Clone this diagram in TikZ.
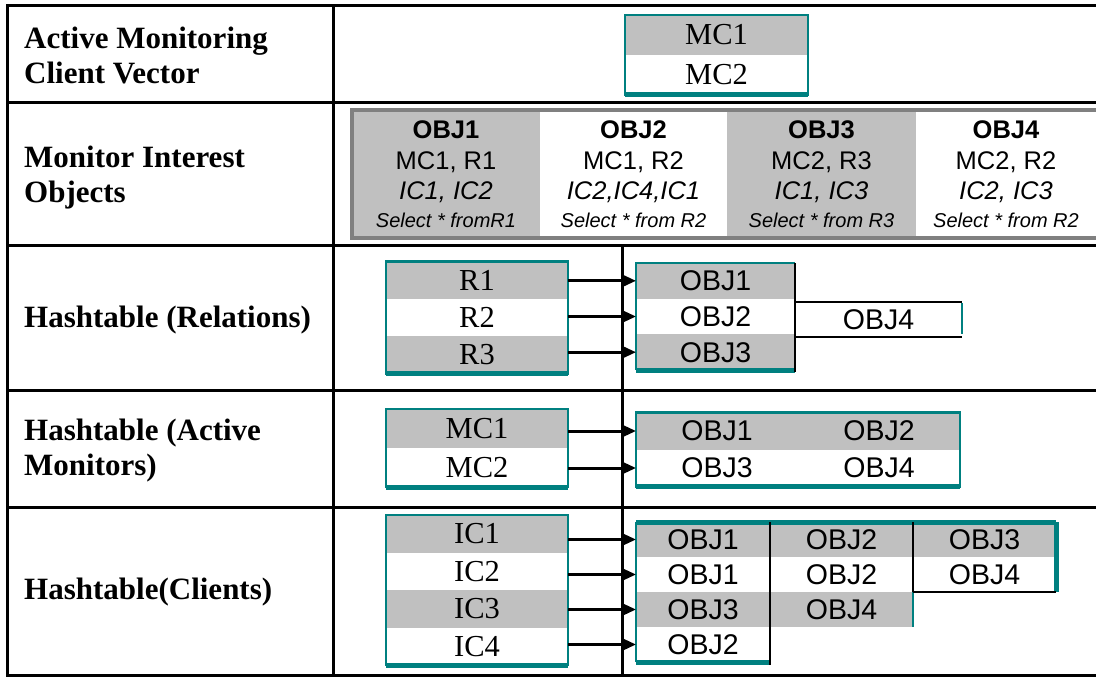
\documentclass[tikz,border=0pt]{standalone}
\usepackage{fontspec}
\setmainfont{Liberation Serif}
\setsansfont{Liberation Sans}
\usetikzlibrary{arrows.meta}
\definecolor{cellgray}{HTML}{C0C0C0}
\definecolor{tealc}{HTML}{008080}
\definecolor{framegray}{HTML}{808080}

\tikzset{
  rowlabel/.style={anchor=west, align=left, inner sep=0pt,
    font=\fontsize{31}{35}\selectfont\bfseries},
  cell/.style n args={2}{inner sep=0pt, outer sep=0pt,
    minimum width=#1, minimum height=#2},
  shaded/.style={fill=cellgray},
  plain/.style={fill=white},
  serifcell/.style={font=\fontsize{30.5}{32}\selectfont},
  sanscell/.style={font=\sffamily\fontsize{28.5}{30}\selectfont},
  objcell/.style={align=center, font=\sffamily\fontsize{25.5}{30.5}\selectfont},
  tbl/.style={line width=3pt, black},
  tealline/.style={line width=2.5pt, tealc},
  tealbase/.style={line width=5pt, tealc},
  thinblack/.style={line width=1.5pt, black},
  link/.style={line width=3pt, -{Triangle[length=15pt,width=13pt]}},
}
\newcommand{\selline}[1]{{\fontsize{20}{22}\selectfont\itshape #1}}

\begin{document}
\begin{tikzpicture}[x=1pt,y=-1pt]
\useasboundingbox[fill=white] (0,0) rectangle (1096,677);

% ---- table grid ----
\coordinate (tl) at (7,6);
\coordinate (tr) at (1096,6);
\coordinate (bl) at (7,675);
\coordinate (br) at (1096,675);
\draw[tbl] (tr) -- (tl) -- (bl) -- (br);
\draw[tbl] (333,6) -- (333,675);
\foreach \yy in {103,245,390,507} \draw[tbl] (7,\yy) -- (1096,\yy);
\draw[tbl] (622,245) -- (622,675);

% ---- row labels ----
\node[rowlabel] (lab1) at (24,55) {Active Monitoring\\Client Vector};
\node[rowlabel] (lab2) at (24,178) {Monitor Interest\\Objects};
\node[rowlabel] (lab3) at (24,320) {Hashtable (Relations)};
\node[rowlabel] (lab4) at (24,451) {Hashtable (Active\\Monitors)};
\node[rowlabel] (lab5) at (24,592) {Hashtable(Clients)};

% ---- active monitoring client vector ----
\node[cell={183pt}{40pt}, shaded, serifcell] (v1) at (716.5,35) {MC1};
\node[cell={183pt}{40pt}, plain, serifcell] (v2) at (716.5,75) {MC2};
\draw[tealline] (v1.north west) rectangle (v2.south east);
\draw[tealbase] (v2.south west) -- (v2.south east);

% ---- monitor interest objects ----
\node[cell={188pt}{128pt}, shaded, objcell] (o1) at (446,174)
  {\textbf{OBJ1}\\MC1, R1\\\textit{IC1, IC2}\\[-3pt]\selline{Select * fromR1}};
\node[cell={187pt}{128pt}, plain, objcell] (o2) at (633.5,174)
  {\textbf{OBJ2}\\MC1, R2\\\textit{IC2,IC4,IC1}\\[-3pt]\selline{Select * from R2}};
\node[cell={189pt}{128pt}, shaded, objcell] (o3) at (821.5,174)
  {\textbf{OBJ3}\\MC2, R3\\\textit{IC1, IC3}\\[-3pt]\selline{Select * from R3}};
\node[cell={180pt}{128pt}, plain, objcell] (o4) at (1006,174)
  {\textbf{OBJ4}\\MC2, R2\\\textit{IC2, IC3}\\[-3pt]\selline{Select * from R2}};
\draw[line width=4.5pt, framegray] (1100,110) -- (o1.north west) -- (o1.south west) -- (1100,238);

% ---- hashtable (relations) ----
\node[cell={182pt}{37.5pt}, shaded, serifcell] (r1) at (477,280) {R1};
\node[cell={182pt}{37.5pt}, plain, serifcell] (r2) at (477,317.5) {R2};
\node[cell={182pt}{37.5pt}, shaded, serifcell] (r3) at (477,355) {R3};
\draw[tealline] (r1.north west) rectangle (r3.south east);
\draw[tealbase] (r3.south west) -- (r3.south east);

\node[cell={159pt}{35.7pt}, shaded, sanscell] (ro1) at (715.5,280.8) {OBJ1};
\node[cell={159pt}{35.7pt}, plain, sanscell] (ro2) at (715.5,316.5) {OBJ2};
\node[cell={159pt}{35.7pt}, shaded, sanscell] (ro3) at (715.5,352.2) {OBJ3};
\node[cell={167pt}{35pt}, plain, sanscell] (ro4) at (878.5,319.5) {OBJ4};
\draw[tealline] (ro1.north east) -- (ro1.north west) -- (ro3.south west);
\draw[tealbase] (ro3.south west) -- (ro3.south east);
\draw[thinblack] (ro1.north east) -- ([yshift=-2pt]ro3.south east);
\draw[thinblack] (ro4.north west) -- (ro4.north east);
\draw[thinblack] (ro4.south west) -- (ro4.south east);
\draw[tealline] ([yshift=-1pt]ro4.north east) -- ([yshift=3pt]ro4.south east);

\draw[link] (ro1.west -| r1.east) -- (ro1.west);
\draw[link] (ro2.west -| r2.east) -- (ro2.west);
\draw[link] (ro3.west -| r3.east) -- (ro3.west);

% ---- hashtable (active monitors) ----
\node[cell={182pt}{39pt}, shaded, serifcell] (m1) at (477,428.5) {MC1};
\node[cell={182pt}{39pt}, plain, serifcell] (m2) at (477,467.5) {MC2};
\draw[tealline] (m1.north west) rectangle (m2.south east);
\draw[tealbase] (m2.south west) -- (m2.south east);

\node[cell={162pt}{37pt}, shaded, sanscell] (mo1) at (717,431) {OBJ1};
\node[cell={162pt}{37pt}, shaded, sanscell] (mo2) at (879,431) {OBJ2};
\node[cell={162pt}{37pt}, plain, sanscell] (mo3) at (717,468) {OBJ3};
\node[cell={162pt}{37pt}, plain, sanscell] (mo4) at (879,468) {OBJ4};
\draw[tealline] (mo1.north west) rectangle (mo4.south east);
\draw[tealbase] (mo3.south west) -- (mo4.south east);

\draw[link] (mo1.west -| m1.east) -- (mo1.west);
\draw[link] (mo3.west -| m2.east) -- (mo3.west);

% ---- hashtable (clients) ----
\node[cell={182pt}{37.5pt}, shaded, serifcell] (c1) at (477,533.75) {IC1};
\node[cell={182pt}{37.5pt}, plain, serifcell] (c2) at (477,571.25) {IC2};
\node[cell={182pt}{37.5pt}, shaded, serifcell] (c3) at (477,608.75) {IC3};
\node[cell={182pt}{37.5pt}, plain, serifcell] (c4) at (477,646.25) {IC4};
\draw[tealline] (c1.north west) rectangle (c4.south east);
\draw[tealbase] (c4.south west) -- (c4.south east);

\node[cell={134pt}{35pt}, shaded, sanscell] (k11) at (703,539.5) {OBJ1};
\node[cell={134pt}{35pt}, plain, sanscell] (k12) at (703,574.5) {OBJ1};
\node[cell={134pt}{35pt}, shaded, sanscell] (k13) at (703,609.5) {OBJ3};
\node[cell={134pt}{35pt}, plain, sanscell] (k14) at (703,644.5) {OBJ2};
\node[cell={143pt}{35pt}, shaded, sanscell] (k21) at (841.5,539.5) {OBJ2};
\node[cell={143pt}{35pt}, plain, sanscell] (k22) at (841.5,574.5) {OBJ2};
\node[cell={143pt}{35pt}, shaded, sanscell] (k23) at (841.5,609.5) {OBJ4};
\node[cell={143pt}{35pt}, shaded, sanscell] (k31) at (984.5,539.5) {OBJ3};
\node[cell={143pt}{35pt}, plain, sanscell] (k32) at (984.5,574.5) {OBJ4};
\draw[tealline] (k11.north west) -- (k14.south west);
\draw[tealbase] (k11.north west) -- (k31.north east);
\draw[tealbase] (k14.south west) -- (k14.south east);
\draw[thinblack] (k11.north east) -- ([yshift=-3pt]k14.south east);
\draw[thinblack] (k21.north east) -- (k22.south east);
\draw[tealline] (k22.south east) -- (k23.south east);
\draw[tealbase] (k31.north east) -- (k32.south east);
\draw[thinblack] (k32.south west) -- (k32.south east);

\draw[link] (k11.west -| c1.east) -- (k11.west);
\draw[link] (k12.west -| c2.east) -- (k12.west);
\draw[link] (k13.west -| c3.east) -- (k13.west);
\draw[link] (k14.west -| c4.east) -- (k14.west);
\end{tikzpicture}
\end{document}
